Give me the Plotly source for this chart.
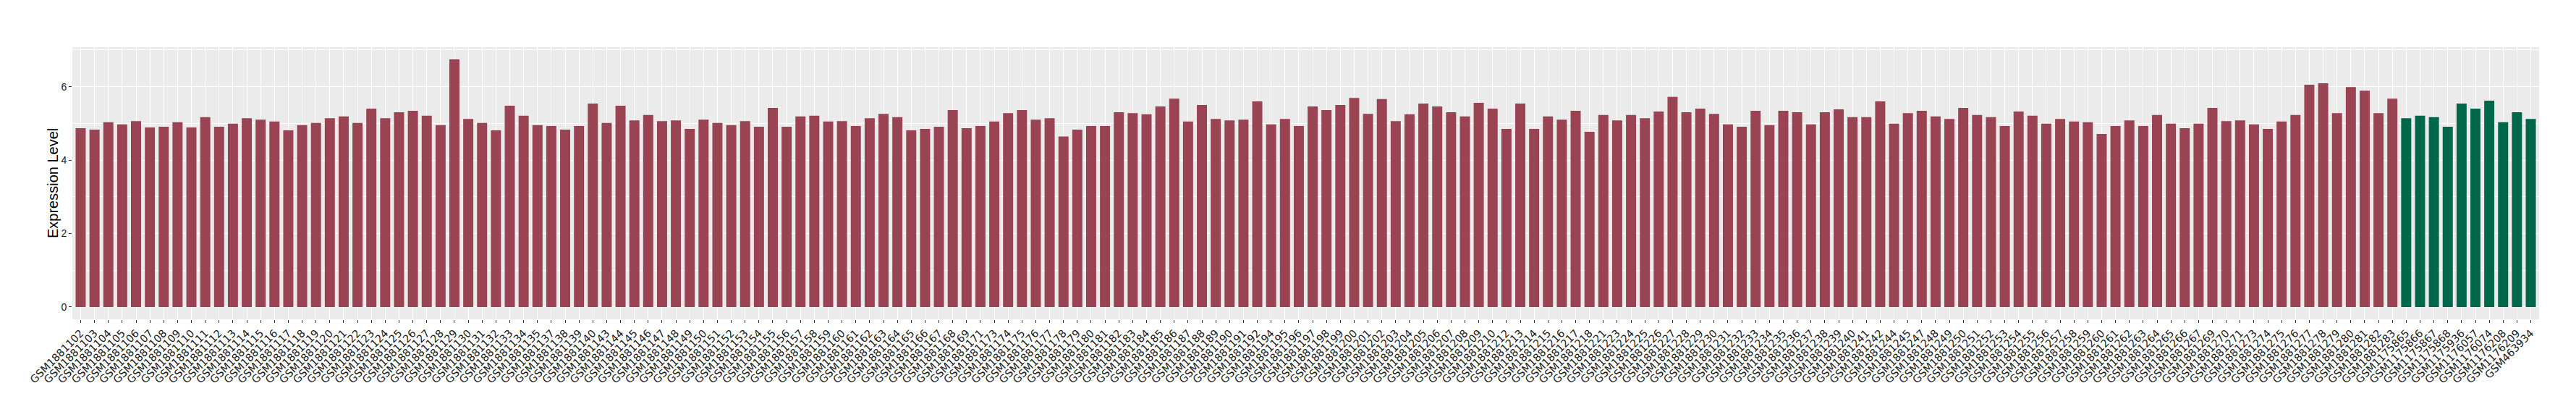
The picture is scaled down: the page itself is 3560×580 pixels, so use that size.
import plotly.graph_objects as go

red_samples = [
    "GSM1881102", "GSM1881103", "GSM1881104", "GSM1881105", "GSM1881106", "GSM1881107", "GSM1881108",
    "GSM1881109", "GSM1881110", "GSM1881111", "GSM1881112", "GSM1881113", "GSM1881114", "GSM1881115",
    "GSM1881116", "GSM1881117", "GSM1881118", "GSM1881119", "GSM1881120", "GSM1881121", "GSM1881122",
    "GSM1881123", "GSM1881124", "GSM1881125", "GSM1881126", "GSM1881127", "GSM1881128", "GSM1881129",
    "GSM1881130", "GSM1881131", "GSM1881132", "GSM1881133", "GSM1881134", "GSM1881135", "GSM1881137",
    "GSM1881138", "GSM1881139", "GSM1881140", "GSM1881143", "GSM1881144", "GSM1881145", "GSM1881146",
    "GSM1881147", "GSM1881148", "GSM1881149", "GSM1881150", "GSM1881151", "GSM1881152", "GSM1881153",
    "GSM1881154", "GSM1881155", "GSM1881156", "GSM1881157", "GSM1881158", "GSM1881159", "GSM1881160",
    "GSM1881161", "GSM1881162", "GSM1881163", "GSM1881164", "GSM1881165", "GSM1881166", "GSM1881167",
    "GSM1881168", "GSM1881169", "GSM1881171", "GSM1881173", "GSM1881174", "GSM1881175", "GSM1881176",
    "GSM1881177", "GSM1881178", "GSM1881179", "GSM1881180", "GSM1881181", "GSM1881182", "GSM1881183",
    "GSM1881184", "GSM1881185", "GSM1881186", "GSM1881187", "GSM1881188", "GSM1881189", "GSM1881190",
    "GSM1881191", "GSM1881192", "GSM1881194", "GSM1881195", "GSM1881196", "GSM1881197", "GSM1881198",
    "GSM1881199", "GSM1881200", "GSM1881201", "GSM1881202", "GSM1881203", "GSM1881204", "GSM1881205",
    "GSM1881206", "GSM1881207", "GSM1881208", "GSM1881209", "GSM1881210", "GSM1881212", "GSM1881213",
    "GSM1881214", "GSM1881215", "GSM1881216", "GSM1881217", "GSM1881218", "GSM1881221", "GSM1881223",
    "GSM1881224", "GSM1881225", "GSM1881226", "GSM1881227", "GSM1881228", "GSM1881229", "GSM1881230",
    "GSM1881231", "GSM1881232", "GSM1881233", "GSM1881234", "GSM1881235", "GSM1881236", "GSM1881237",
    "GSM1881238", "GSM1881239", "GSM1881240", "GSM1881241", "GSM1881242", "GSM1881244", "GSM1881245",
    "GSM1881247", "GSM1881248", "GSM1881249", "GSM1881250", "GSM1881251", "GSM1881252", "GSM1881253",
    "GSM1881254", "GSM1881255", "GSM1881256", "GSM1881257", "GSM1881258", "GSM1881259", "GSM1881260",
    "GSM1881261", "GSM1881262", "GSM1881263", "GSM1881264", "GSM1881265", "GSM1881266", "GSM1881267",
    "GSM1881269", "GSM1881270", "GSM1881271", "GSM1881273", "GSM1881274", "GSM1881275", "GSM1881276",
    "GSM1881277", "GSM1881278", "GSM1881279", "GSM1881280", "GSM1881281", "GSM1881282", "GSM1881283",
]

red_values = [
    4.87, 4.83, 5.03, 4.97, 5.06, 4.89, 4.91,
    5.03, 4.89, 5.17, 4.91, 4.99, 5.14, 5.10,
    5.05, 4.81, 4.95, 5.01, 5.14, 5.19, 5.01,
    5.40, 5.14, 5.30, 5.34, 5.21, 4.95, 6.74,
    5.12, 5.01, 4.81, 5.48, 5.21, 4.95, 4.93,
    4.83, 4.93, 5.54, 5.01, 5.48, 5.08, 5.23,
    5.06, 5.08, 4.85, 5.10, 5.01, 4.95, 5.06,
    4.91, 5.42, 4.91, 5.19, 5.21, 5.05, 5.06,
    4.93, 5.14, 5.26, 5.17, 4.81, 4.85, 4.91,
    5.36, 4.87, 4.93, 5.05, 5.28, 5.36, 5.10,
    5.14, 4.64, 4.83, 4.93, 4.93, 5.30, 5.28,
    5.25, 5.46, 5.67, 5.05, 5.50, 5.12, 5.08,
    5.10, 5.60, 4.97, 5.12, 4.93, 5.46, 5.36,
    5.50, 5.69, 5.26, 5.66, 5.06, 5.25, 5.54,
    5.46, 5.30, 5.19, 5.56, 5.40, 4.85, 5.54,
    4.85, 5.19, 5.10, 5.34, 4.77, 5.23, 5.08,
    5.23, 5.14, 5.32, 5.72, 5.30, 5.40, 5.26,
    4.97, 4.91, 5.34, 4.95, 5.34, 5.30, 4.97,
    5.30, 5.38, 5.17, 5.17, 5.60, 4.99, 5.28,
    5.34, 5.19, 5.12, 5.42, 5.23, 5.17, 4.93,
    5.32, 5.21, 4.99, 5.12, 5.05, 5.03, 4.71,
    4.93, 5.08, 4.93, 5.23, 4.99, 4.87, 4.99,
    5.42, 5.06, 5.08, 4.97, 4.85, 5.05, 5.23,
    6.05, 6.09, 5.28, 5.99, 5.89, 5.28, 5.67,
]

green_samples = [
    "GSM1175865", "GSM1175866", "GSM1175867", "GSM1175868", "GSM1175936",
    "GSM1176057", "GSM1176074", "GSM1176208", "GSM1176209", "GSM463934",
]
green_values = [5.14, 5.21, 5.17, 4.91, 5.54, 5.40, 5.62, 5.03, 5.30, 5.12]

y_ticks = [0, 2, 4, 6]

categories = red_samples + green_samples
n = len(categories)
ymax = max(red_values + green_values)
pad = 0.05 * ymax

fig = go.Figure()
fig.add_bar(x=red_samples, y=red_values, marker_color="#9A4352",
            marker_line_width=0, hoverinfo="x+y")
fig.add_bar(x=green_samples, y=green_values, marker_color="#00674A",
            marker_line_width=0, hoverinfo="x+y")

fig.update_layout(
    width=3560, height=580,
    margin=dict(l=92, r=59, t=57, b=147, autoexpand=False),
    paper_bgcolor="white", plot_bgcolor="#EBEBEB",
    showlegend=False, bargap=0.27, barmode="overlay",
    annotations=[dict(
        text="Expression Level", xref="paper", yref="paper",
        x=0, y=0.5, xshift=-27, xanchor="center", yanchor="middle",
        textangle=-90, showarrow=False,
        font=dict(family="Liberation Sans, Arial, sans-serif", size=20, color="#000000"),
    )],
)

fig.update_xaxes(
    type="category", categoryorder="array", categoryarray=categories,
    tickmode="array", tickvals=categories, ticktext=categories,
    tickangle=-45, range=[-0.6, n - 0.4],
    tickfont=dict(family="DejaVu Sans, sans-serif", size=14.5, color="#1a1a1a"),
    ticks="outside", ticklen=4, tickwidth=1, tickcolor="#333333",
    showgrid=True, gridcolor="white", gridwidth=1.1,
    zeroline=False, showline=False, automargin=False,
)

fig.update_yaxes(
    range=[-pad, ymax + pad],
    tickmode="array", tickvals=y_ticks,
    tickfont=dict(family="Liberation Sans, Arial, sans-serif", size=14, color="#1a1a1a"),
    ticks="outside", ticklen=4, tickwidth=1, tickcolor="#333333",
    showgrid=True, gridcolor="white", gridwidth=1.1,
    minor=dict(dtick=1, tick0=0, showgrid=True, gridcolor="white", gridwidth=0.55, ticks=""),
    zeroline=False, showline=False, automargin=False,
)

fig.write_html("out.html")
